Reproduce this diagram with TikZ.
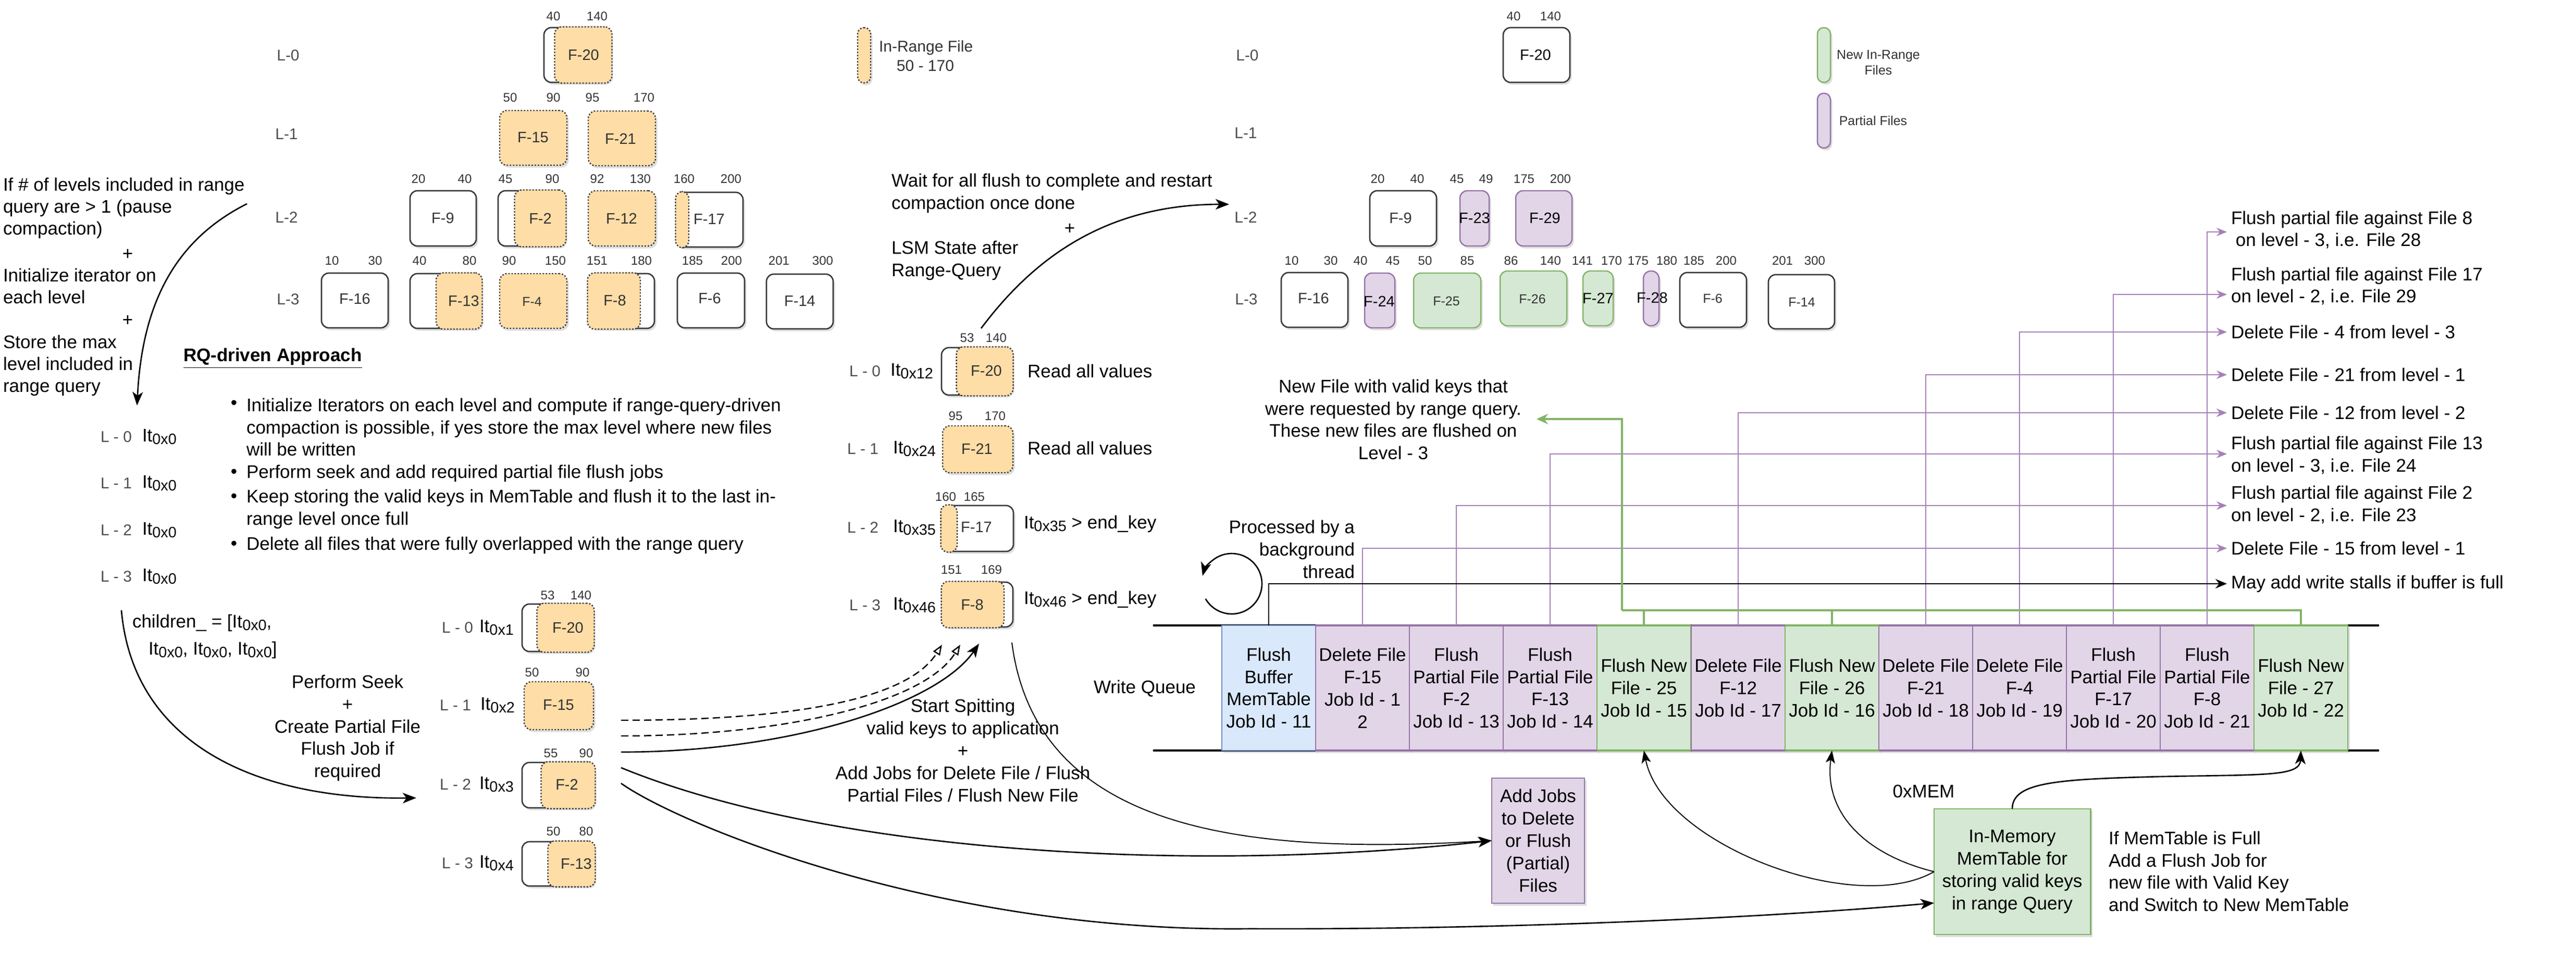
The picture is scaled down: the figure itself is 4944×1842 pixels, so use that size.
\documentclass[tikz,border=0pt]{standalone}
\usepackage{fontspec}
\setmainfont{Liberation Sans}
\usetikzlibrary{arrows.meta,shadows}
\definecolor{pfill}{HTML}{E1D5E7}
\definecolor{pdraw}{HTML}{9673A6}
\definecolor{gfill}{HTML}{D5E8D4}
\definecolor{gdraw}{HTML}{82B366}
\definecolor{bfill}{HTML}{DAE8FC}
\definecolor{bdraw}{HTML}{6C8EBF}
\definecolor{ofill}{HTML}{FFDDA6}
\definecolor{bord}{HTML}{36393D}
\definecolor{dgray}{HTML}{333333}
\definecolor{lgray}{HTML}{4D4D4D}
\definecolor{plinec}{HTML}{A680B8}
\newcommand{\mkbox}[6]{\node[#1, minimum width={(#5-#3)*0.01cm}, minimum height={(#6-#4)*0.01cm}] (#2) at ({(#3+#5)/2},{(#4+#6)/2}) {};}
\newcommand{\itsub}[1]{It\raisebox{-1.6pt}{\fontsize{8.2pt}{8pt}\selectfont #1}}
\tikzset{
 nb/.style={inner sep=0pt, outer sep=0pt},
 shdw/.style={drop shadow={shadow xshift=0.035cm, shadow yshift=-0.045cm, opacity=0.18, fill=black!70}},
 wbox/.style={nb, draw=bord, fill=white, line width=0.75pt, rounded corners=0.14cm, shdw},
 obox/.style={nb, draw=bord, fill=ofill, line width=0.7pt, dash pattern=on 0.8pt off 0.9pt, rounded corners=0.14cm},
 obase/.style={obox, shdw},
 pbox/.style={nb, draw=pdraw, fill=pfill, line width=0.7pt, rounded corners=0.14cm, shdw},
 gbox/.style={nb, draw=gdraw, fill=gfill, line width=0.7pt, rounded corners=0.14cm, shdw},
 ttxt/.style={nb, font=\fontsize{9.96pt}{12.2pt}\selectfont, align=left, text=black},
 tctr/.style={nb, font=\fontsize{9.96pt}{12.2pt}\selectfont, align=center, text=black},
 tnum/.style={nb, font=\fontsize{6.83pt}{8pt}\selectfont, text=dgray},
 tlbl/.style={nb, font=\fontsize{8.25pt}{9pt}\selectfont, text=dgray},
 tblk/.style={nb, font=\fontsize{8.25pt}{9pt}\selectfont, text=black},
 tsml/.style={nb, font=\fontsize{7.1pt}{8pt}\selectfont, text=dgray},
 tlvl/.style={nb, font=\fontsize{8.5pt}{9pt}\selectfont, text=lgray},
 tleg/.style={nb, font=\fontsize{8.54pt}{9.8pt}\selectfont, text=dgray, align=center},
 tleg2/.style={nb, font=\fontsize{7.1pt}{8.3pt}\selectfont, text=dgray, align=center},
 cell/.style={nb, line width=0.5pt, minimum width=1.801cm, minimum height=2.4cm, shdw, font=\fontsize{9.96pt}{12.2pt}\selectfont, align=center},
 pcell/.style={cell, fill=pfill, draw=pdraw},
 gcell/.style={cell, fill=gfill, draw=gdraw},
 bcell/.style={cell, fill=bfill, draw=bdraw},
 carr/.style={line width=0.75pt, -{Stealth[length=0.26cm,width=0.2cm,inset=0.07cm]}},
 tarr/.style={line width=0.55pt, -{Stealth[length=0.24cm,width=0.18cm,inset=0.06cm]}},
 darr/.style={line width=0.7pt, dash pattern=on 0.14cm off 0.08cm, -{Triangle[open,length=0.2cm,width=0.15cm]}},
 parr/.style={draw=plinec, line width=0.6pt, -{Stealth[length=0.2cm,width=0.16cm]}},
 garr/.style={draw=gdraw, line width=1pt, -{Stealth[length=0.22cm,width=0.2cm]}},
 barr/.style={line width=0.75pt, -{Stealth[length=0.22cm,width=0.18cm]}},
}
\begin{document}
\begin{tikzpicture}[x=0.01cm,y=-0.01cm]
\fill[white] (0,0) rectangle (4944,1842);
\useasboundingbox (0,0) rectangle (4944,1842);

% ---------------- LEFT LSM TREE ----------------
\node[tlvl] (lL0) at (553,106) {L-0};
\node[tlvl] (lL1) at (550,257) {L-1};
\node[tlvl] (lL2) at (550,417) {L-2};
\node[tlvl] (lL3) at (553,574) {L-3};

\mkbox{wbox}{aF20}{1044}{53}{1173}{158}
\mkbox{obox}{aF20o}{1064.5}{51.5}{1174.5}{159.5}
\node[tlbl] (aF20t) at (1120,106) {F-20};
\mkbox{obase}{aF15}{959}{212}{1088}{317}
\node[tlbl] (aF15t) at (1023,264) {F-15};
\mkbox{obase}{aF21}{1129}{213}{1258}{318}
\node[tlbl] (aF21t) at (1191,266) {F-21};

\mkbox{wbox}{aF9}{787}{366}{914}{472}
\node[tlbl] (aF9t) at (850,419) {F-9};
\mkbox{wbox}{aF2}{956}{366}{1085}{472}
\mkbox{obox}{aF2o}{987.5}{364.5}{1086.5}{473.5}
\node[tlbl] (aF2t) at (1037,419) {F-2};
\mkbox{obase}{aF12}{1129}{366}{1258}{472}
\node[tlbl] (aF12t) at (1193,419) {F-12};
\mkbox{wbox}{aF17}{1298}{369}{1426}{474}
\mkbox{obox}{aF17o}{1296.5}{367.5}{1322}{475.5}
\node[tlbl] (aF17t) at (1361,421) {F-17};

\mkbox{wbox}{aF16}{617}{524}{745}{629}
\node[tlbl] (aF16t) at (681,574) {F-16};
\mkbox{wbox}{aF13}{787}{525}{924}{630}
\mkbox{obox}{aF13o}{837}{523.5}{925.5}{631.5}
\node[tlbl] (aF13t) at (890,578) {F-13};
\mkbox{obase}{aF4}{959}{525}{1088}{630}
\node[tsml] (aF4t) at (1021,579) {F-4};
\mkbox{wbox}{aF8}{1129}{525}{1256}{630}
\mkbox{obox}{aF8o}{1127.5}{523.5}{1229}{631.5}
\node[tlbl] (aF8t) at (1180,577) {F-8};
\mkbox{wbox}{aF6}{1300}{524}{1429}{629}
\node[tlbl] (aF6t) at (1362,573) {F-6};
\mkbox{wbox}{aF14}{1471}{526}{1599}{631}
\node[tlbl] (aF14t) at (1535,578) {F-14};

\foreach \t/\x [count=\i] in {40/1062,140/1146} \node[tnum] (na0\i) at (\x,31) {\t};
\foreach \t/\x [count=\i] in {50/979,90/1062,95/1137,170/1236} \node[tnum] (na1\i) at (\x,187) {\t};
\foreach \t/\x [count=\i] in {20/803,40/892,45/970,90/1060,92/1146,130/1229,160/1313,200/1403} \node[tnum] (na2\i) at (\x,343) {\t};
\foreach \t/\x [count=\i] in {10/637,30/720,40/805,80/901,90/977,150/1066,151/1146,180/1231,185/1329,200/1404,201/1495,300/1579} \node[tnum] (na3\i) at (\x,500) {\t};

% legend left
\mkbox{obase,rounded corners=0.12cm}{legO}{1646}{53}{1671}{159}
\node[tleg, anchor=west] (legOt) at (1687,92) {In-Range File};
\node[tleg] (legOt2) at (1776,126) {50 - 170};

% ---------------- RIGHT LSM TREE ----------------
\node[tlvl] (rL0) at (2394,106) {L-0};
\node[tlvl] (rL1) at (2391,255) {L-1};
\node[tlvl] (rL2) at (2391,417) {L-2};
\node[tlvl] (rL3) at (2392,574) {L-3};

\mkbox{wbox}{rF20}{2885}{53}{3013}{158}
\node[tblk] (rF20t) at (2947,106) {F-20};
\mkbox{wbox}{rF9}{2629}{366}{2757}{472}
\node[tlbl] (rF9t) at (2688,419) {F-9};
\mkbox{pbox}{rF23}{2802}{366}{2858}{472}
\node[tblk] (rF23t) at (2830,419) {F-23};
\mkbox{pbox}{rF29}{2909}{366}{3017}{472}
\node[tblk] (rF29t) at (2965,419) {F-29};

\mkbox{wbox}{rF16}{2459}{523}{2587}{628}
\node[tlbl] (rF16t) at (2521,573) {F-16};
\mkbox{pbox}{rF24}{2619}{524}{2677}{629}
\node[tblk] (rF24t) at (2647,578) {F-24};
\mkbox{gbox}{rF25}{2713}{524}{2842}{629}
\node[tsml] (rF25t) at (2776,578) {F-25};
\mkbox{gbox}{rF26}{2879}{520}{3007}{625}
\node[tsml] (rF26t) at (2941,574) {F-26};
\mkbox{gbox}{rF27}{3038}{520}{3096}{625}
\node[tblk] (rF27t) at (3067,572) {F-27};
\mkbox{pbox,rounded corners=0.145cm}{rF28}{3154}{520}{3184}{625}
\node[tblk] (rF28t) at (3171,572) {F-28};
\mkbox{wbox}{rF6}{3224}{523}{3352}{628}
\node[tsml] (rF6t) at (3287,573) {F-6};
\mkbox{wbox}{rF14}{3394}{527}{3521}{631}
\node[tsml] (rF14t) at (3458,580) {F-14};

\foreach \t/\x [count=\i] in {40/2905,140/2976} \node[tnum] (nr0\i) at (\x,31) {\t};
\foreach \t/\x [count=\i] in {20/2644,40/2720,45/2796,49/2852,175/2925,200/2995} \node[tnum] (nr2\i) at (\x,343) {\t};
\foreach \t/\x [count=\i] in {10/2479,30/2554,40/2611,45/2673,50/2735,85/2816,86/2900,140/2976,141/3037,170/3093,175/3144,180/3199,185/3251,200/3313,201/3421,300/3483} \node[tnum] (nr3\i) at (\x,500) {\t};

% legend right
\mkbox{gbox,rounded corners=0.12cm}{legG}{3488}{53}{3513}{158}
\node[tleg2] (legGt) at (3605,120) {New In-Range\\Files};
\mkbox{pbox,rounded corners=0.12cm}{legP}{3488}{179}{3513}{284}
\node[tleg2] (legPt) at (3595,232) {Partial Files};

% ---------------- TOP-LEFT TEXT ----------------
\node[ttxt, anchor=west, font=\fontsize{9.96pt}{11.95pt}\selectfont] (tl1) at (6,399) {If \# of levels included in range\\query are > 1 (pause\\compaction)};
\node[ttxt] (tlp1) at (245,488) {+};
\node[ttxt, anchor=west, font=\fontsize{9.96pt}{11.95pt}\selectfont] (tl2) at (6,549) {Initialize iterator on\\each level};
\node[ttxt] (tlp2) at (245,615) {+};
\node[ttxt, anchor=west, font=\fontsize{9.96pt}{11.95pt}\selectfont] (tl3) at (6,701) {Store the max\\level included in\\range query};

\coordinate (k1s) at (474,391);
\coordinate (k1e) at (263,778);
\draw[carr] (k1s) .. controls (339,459) and (273,578) .. (k1e);

% RQ-driven
\node[ttxt, anchor=west] (rq) at (352,688) {\underline{\textbf{RQ-driven Approach}}};
\node[ttxt] (bu1) at (449,776) {\textbullet};
\node[ttxt, anchor=west] (it1) at (473,819.5) {Initialize Iterators on each level and compute if range-query-driven\\compaction is possible, if yes store the max level where new files\\will be written};
\node[ttxt] (bu2) at (449,908) {\textbullet};
\node[ttxt, anchor=west] (it2) at (473,908) {Perform seek and add required partial file flush jobs};
\node[ttxt] (bu3) at (449,955) {\textbullet};
\node[ttxt, anchor=west] (it3) at (473,977) {Keep storing the valid keys in MemTable and flush it to the last in-\\range level once full};
\node[ttxt] (bu4) at (449,1046) {\textbullet};
\node[ttxt, anchor=west] (it4) at (473,1046) {Delete all files that were fully overlapped with the range query};

% far-left iterators
\foreach \l/\y [count=\i] in {0/838,1/927,2/1017,3/1106} {
  \node[tlvl] (fl\i) at (223,\y) {L - \l};
  \node[ttxt, anchor=west] (fi\i) at (273,\y) {\itsub{0x0}};
}
\node[ttxt, anchor=west] (ch1) at (254,1195) {children\_ = [\itsub{0x0},};
\node[ttxt, anchor=west] (ch2) at (285,1247) {\itsub{0x0}, \itsub{0x0}, \itsub{0x0}]};
\coordinate (k2s) at (233,1171);
\coordinate (k2e) at (799,1531);
\draw[carr] (k2s) .. controls (255,1420) and (480,1535) .. (k2e);
\node[tctr, font=\fontsize{9.96pt}{12.2pt}\selectfont] (pseek) at (667,1397) {Perform Seek\\+\\Create Partial File\\Flush Job if\\required};

% bottom iterators (after seek)
\node[tlvl] (bl1) at (878,1204) {L - 0};
\node[ttxt, anchor=west] (bi1) at (920,1204) {\itsub{0x1}};
\node[tlvl] (bl2) at (874,1353) {L - 1};
\node[ttxt, anchor=west] (bi2) at (922,1353) {\itsub{0x2}};
\node[tlvl] (bl3) at (874,1505) {L - 2};
\node[ttxt, anchor=west] (bi3) at (920,1505) {\itsub{0x3}};
\node[tlvl] (bl4) at (878,1656) {L - 3};
\node[ttxt, anchor=west] (bi4) at (920,1656) {\itsub{0x4}};

\mkbox{wbox}{bF20}{1002}{1159}{1139}{1250}
\mkbox{obox}{bF20o}{1030.5}{1157.5}{1140.5}{1251.5}
\node[tlbl] (bF20t) at (1090,1204) {F-20};
\mkbox{obase}{bF15}{1006}{1308}{1139}{1400}
\node[tlbl] (bF15t) at (1072,1353) {F-15};
\mkbox{wbox}{bF2}{1002}{1463}{1141}{1550}
\mkbox{obox}{bF2o}{1038.5}{1461.5}{1142.5}{1551.5}
\node[tlbl] (bF2t) at (1088,1505) {F-2};
\mkbox{wbox}{bF13}{1002}{1615}{1141}{1700}
\mkbox{obox}{bF13o}{1051.5}{1613.5}{1142.5}{1701.5}
\node[tlbl] (bF13t) at (1106,1657) {F-13};
\foreach \t/\x/\y [count=\i] in {53/1051/1142,140/1115/1142,50/1021/1290,90/1118/1290,55/1057/1445,90/1125/1445,50/1062/1595,80/1125/1595} \node[tnum] (nb\i) at (\x,\y) {\t};

% ---------------- MIDDLE ITERATORS ----------------
\node[ttxt, anchor=west] (mt1) at (1711,370.5) {Wait for all flush to complete and restart\\compaction once done};
\node[ttxt] (mtp) at (2053,439) {+};
\node[ttxt, anchor=west] (mt2) at (1711,500) {LSM State after\\Range-Query};
\coordinate (k3s) at (1883,630);
\coordinate (k3e) at (2359,392);
\draw[carr] (k3s) .. controls (1973,510) and (2109,392) .. (k3e);

\node[tlvl] (ml1) at (1660,712) {L - 0};
\node[ttxt, anchor=west] (mi1) at (1709,712) {\itsub{0x12}};
\node[tlvl] (ml2) at (1656,861) {L - 1};
\node[ttxt, anchor=west] (mi2) at (1714,861) {\itsub{0x24}};
\node[tlvl] (ml3) at (1656,1012) {L - 2};
\node[ttxt, anchor=west] (mi3) at (1714,1012) {\itsub{0x35}};
\node[tlvl] (ml4) at (1660,1161) {L - 3};
\node[ttxt, anchor=west] (mi4) at (1714,1161) {\itsub{0x46}};

\mkbox{wbox}{mF20}{1807}{667}{1943}{758}
\mkbox{obox}{mF20o}{1835.5}{665.5}{1944.5}{759.5}
\node[tlbl] (mF20t) at (1893,712) {F-20};
\mkbox{obase}{mF21}{1809}{817}{1944}{907}
\node[tlbl] (mF21t) at (1875,861) {F-21};
\mkbox{wbox}{mF17}{1807}{970}{1945}{1058}
\mkbox{obox}{mF17o}{1805.5}{968.5}{1837}{1059.5}
\node[tlbl] (mF17t) at (1874,1012) {F-17};
\mkbox{wbox}{mF8}{1808}{1117}{1944}{1203}
\mkbox{obox}{mF8o}{1806.5}{1115.5}{1927}{1204.5}
\node[tlbl] (mF8t) at (1866,1160) {F-8};
\foreach \t/\x/\y [count=\i] in {53/1856/648,140/1912/648,95/1834/798,170/1910/798,160/1815/953,165/1870/953,151/1826/1093,169/1903/1093} \node[tnum] (nm\i) at (\x,\y) {\t};

\node[ttxt, anchor=west] (rv1) at (1972,712) {Read all values};
\node[ttxt, anchor=west] (rv2) at (1972,860) {Read all values};
\node[ttxt, anchor=west] (ek1) at (1965,1005) {\itsub{0x35} > end\_key};
\node[ttxt, anchor=west] (ek2) at (1965,1150) {\itsub{0x46} > end\_key};

% arrows from bottom iterators up to F-8
\coordinate (d1s) at (1192,1382);
\coordinate (d1e) at (1808,1237);
\coordinate (d2s) at (1192,1412);
\coordinate (d2e) at (1843,1237);
\coordinate (s1s) at (1192,1443);
\coordinate (s1e) at (1879,1235);
\draw[darr] (d1s) .. controls (1512,1382) and (1740,1345) .. (d1e);
\draw[darr] (d2s) .. controls (1512,1412) and (1775,1347) .. (d2e);
\draw[carr] (s1s) .. controls (1520,1443) and (1800,1350) .. (s1e);

\node[tctr] (spit) at (1848,1440) {Start Spitting\\valid keys to application\\+\\Add Jobs for Delete File / Flush\\Partial Files / Flush New File};

% ---------------- WRITE QUEUE ----------------
\node[ttxt] (wq) at (2197,1321) {Write Queue};
\draw[line width=1pt] (2213,1200) -- (4566,1200);
\draw[line width=1pt] (2213,1440) -- (4566,1440);

\node[bcell] (c0) at (2435,1320) {Flush\\Buffer\\MemTable\\Job Id - 11};
\node[pcell] (c1) at (2615,1320) {Delete File\\F-15\\Job Id - 1\\2};
\node[pcell] (c2) at (2795,1320) {Flush\\Partial File\\F-2\\Job Id - 13};
\node[pcell] (c3) at (2975,1320) {Flush\\Partial File\\F-13\\Job Id - 14};
\node[gcell] (c4) at (3155,1320) {Flush New\\File - 25\\Job Id - 15};
\node[pcell] (c5) at (3336,1320) {Delete File\\F-12\\Job Id - 17};
\node[gcell] (c6) at (3516,1320) {Flush New\\File - 26\\Job Id - 16};
\node[pcell] (c7) at (3696,1320) {Delete File\\F-21\\Job Id - 18};
\node[pcell] (c8) at (3876,1320) {Delete File\\F-4\\Job Id - 19};
\node[pcell] (c9) at (4056,1320) {Flush\\Partial File\\F-17\\Job Id - 20};
\node[pcell] (c10) at (4236,1320) {Flush\\Partial File\\F-8\\Job Id - 21};
\node[gcell] (c11) at (4416,1320) {Flush New\\File - 27\\Job Id - 22};
\foreach \n/\c/\w in {c0/bdraw/0.7pt,c1/pdraw/1.3pt,c2/pdraw/1.3pt,c3/pdraw/1.3pt,c4/gdraw/1.3pt,c5/pdraw/1.3pt,c6/gdraw/1.3pt,c7/pdraw/1.3pt,c8/pdraw/1.3pt,c9/pdraw/1.3pt,c10/pdraw/1.3pt,c11/gdraw/1.3pt}
  \draw[\c, line width=\w] (\n.north west) -- (\n.north east) (\n.south west) -- (\n.south east);

% right labels
\node[ttxt, anchor=west] (t1) at (4282,441) {Flush partial file against File 8\\\hspace*{2.5pt}on level - 3, i.e. File 28};
\node[ttxt, anchor=west] (t2) at (4282,549) {Flush partial file against File 17\\on level - 2, i.e. File 29};
\node[ttxt, anchor=west] (t3) at (4282,637) {Delete File - 4 from level - 3};
\node[ttxt, anchor=west] (t4) at (4282,719) {Delete File - 21 from level - 1};
\node[ttxt, anchor=west] (t5) at (4282,792) {Delete File - 12 from level - 2};
\node[ttxt, anchor=west] (t6) at (4282,873.5) {Flush partial file against File 13\\on level - 3, i.e. File 24};
\node[ttxt, anchor=west] (t7) at (4282,968.5) {Flush partial file against File 2\\on level - 2, i.e. File 23};
\node[ttxt, anchor=west] (t8) at (4282,1052) {Delete File - 15 from level - 1};
\node[ttxt, anchor=west] (t9) at (4282,1120) {May add write stalls if buffer is full};

\foreach \n/\y [count=\i] in {c10/445,c9/565,c8/637,c7/719,c5/792,c3/871,c2/970,c1/1052} {
  \coordinate (pa\i) at (4274,\y);
  \draw[parr] (\n.north) |- (pa\i);
}
\coordinate (pa9) at (4274,1120);
\draw[barr] (c0.north) |- (pa9);

% green bracket
\coordinate (gj) at (3113,1171);
\coordinate (gt) at (2949,804);
\draw[draw=gdraw, line width=1pt] (c4.north) |- (gj);
\draw[draw=gdraw, line width=1pt] (c6.north) |- (gj);
\draw[draw=gdraw, line width=1pt] (c11.north) |- (gj);
\draw[garr] (gj) |- (gt);
\node[tctr] (nf) at (2674,805) {New File with valid keys that\\were requested by range query.\\These new files are flushed on\\Level - 3};

% background thread
\node[ttxt, align=right, anchor=east] (proc) at (2600,1054) {Processed by a\\background\\thread};
\draw[carr] ([shift={(150:58)}]2364,1120) arc[start angle=150, end angle=-165, radius=58];

% ---------------- BOTTOM BOXES ----------------
\node[nb, draw=pdraw, fill=pfill, line width=0.8pt, shdw, minimum width=1.78cm, minimum height=2.4cm, font=\fontsize{9.96pt}{12.2pt}\selectfont, align=center] (aj) at (2952,1613) {Add Jobs\\to Delete\\or Flush\\(Partial)\\Files};
\node[nb, draw=gdraw, fill=gfill, line width=0.8pt, shdw, minimum width=3.0cm, minimum height=2.41cm, font=\fontsize{9.96pt}{12.2pt}\selectfont, align=center] (mem) at (3862,1672.5) {In-Memory\\MemTable for\\storing valid keys\\in range Query};
\node[ttxt, anchor=west] (memt) at (4047,1672) {If MemTable is Full\\Add a Flush Job for\\new file with Valid Key\\and Switch to New MemTable};
\node[ttxt] (oxm) at (3692,1518) {0xMEM};

\coordinate (f8s) at (1942,1233);
\coordinate (l4s) at (1192,1473);
\coordinate (l5s) at (1192,1503);
\draw[tarr] (f8s) .. controls (1990,1600) and (2400,1640) .. (aj.west);
\draw[carr] (l4s) .. controls (1600,1640) and (2300,1675) .. (aj.west);
\draw[carr] (l5s) .. controls (1300,1580) and (1800,1790) .. (2400,1782) .. controls (2900,1784) and (3400,1760) .. ([yshift=-0.6cm]mem.west);

\draw[tarr] (mem.west) .. controls (3560,1760) and (3190,1620) .. (c4.south);
\draw[tarr] (mem.west) .. controls (3580,1640) and (3500,1560) .. (c6.south);
\draw[carr] (mem.north) .. controls (3862,1500) and (3950,1495) .. (4150,1490) .. controls (4350,1486) and (4414,1490) .. (c11.south);
\end{tikzpicture}
\end{document}
